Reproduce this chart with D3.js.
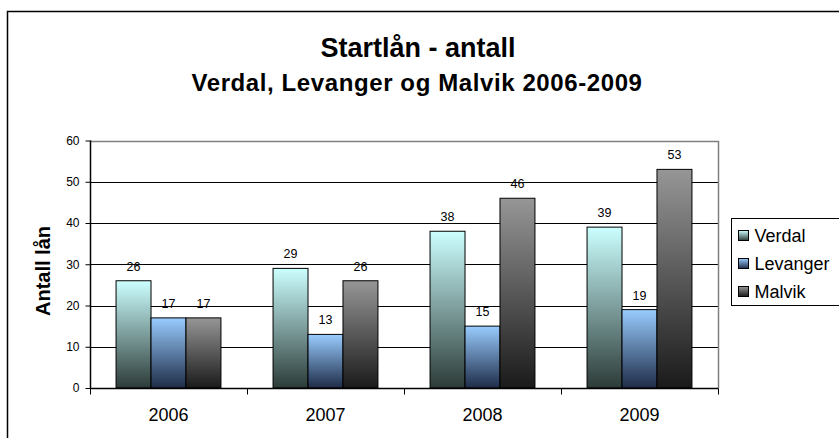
<!DOCTYPE html>
<html>
<head>
<meta charset="utf-8">
<script src="https://cdn.jsdelivr.net/npm/d3@7"></script>
<style>
  body { margin: 0; background: #fff; }
  svg { display: block; font-family: "Liberation Sans", Arial, sans-serif; }
</style>
</head>
<body>
<div id="vis-container"></div>
<script>
// Data
const years = ["2006", "2007", "2008", "2009"];
const seriesNames = ["Verdal", "Levanger", "Malvik"];
const verdal = [26, 29, 38, 39];
const levanger = [17, 13, 15, 19];
const malvik = [17, 26, 46, 53];
const yTicks = [0, 10, 20, 30, 40, 50, 60];

const W = 839, H = 438;
const plot = { left: 90, right: 718, top: 140.5, bottom: 388 };

const svg = d3.select("#vis-container").append("svg")
  .attr("width", W).attr("height", H);

// Gradients (light top -> dark bottom)
const gradColors = {
  Verdal: ["#ccffff", "#2c3b38"],
  Levanger: ["#99ccff", "#1e2c48"],
  Malvik: ["#969696", "#1a1a1a"]
};
const defs = svg.append("defs");
seriesNames.forEach(name => {
  const g = defs.append("linearGradient")
    .attr("id", "grad-" + name)
    .attr("x1", 0).attr("y1", 0).attr("x2", 0).attr("y2", 1);
  g.append("stop").attr("offset", "0%").attr("stop-color", gradColors[name][0]);
  g.append("stop").attr("offset", "100%").attr("stop-color", gradColors[name][1]);
});

// Outer chart border
svg.append("rect")
  .attr("x", 7.5).attr("y", 11.5)
  .attr("width", W + 20).attr("height", H + 20)
  .attr("fill", "none").attr("stroke", "#000").attr("stroke-width", 1.5);

// Title
svg.append("text")
  .attr("x", 418).attr("y", 57)
  .attr("text-anchor", "middle")
  .attr("font-weight", "bold").attr("font-size", 27)
  .text("Startlån - antall");
svg.append("text")
  .attr("x", 417).attr("y", 91)
  .attr("text-anchor", "middle")
  .attr("font-weight", "bold").attr("font-size", 24)
  .attr("letter-spacing", 0.6)
  .text("Verdal, Levanger og Malvik 2006-2009");

// Scales
const x0 = d3.scaleBand().domain(years).range([plot.left, plot.right]).padding(0);
const x1 = d3.scaleBand().domain(seriesNames).range([0, x0.bandwidth()])
  .paddingInner(0).paddingOuter(0.745);
const y = d3.scaleLinear().domain([0, 60]).range([plot.bottom, plot.top]);

// Gridlines
svg.append("g")
  .selectAll("line")
  .data(yTicks.filter(d => d > 0))
  .enter().append("line")
  .attr("x1", plot.left).attr("x2", plot.right)
  .attr("y1", d => Math.round(y(d)) + 0.5).attr("y2", d => Math.round(y(d)) + 0.5)
  .attr("stroke", "#000").attr("stroke-width", 1);

// Plot area border (top + right, gray)
svg.append("path")
  .attr("d", `M${plot.left},${Math.round(plot.top) + 0.5}H${plot.right + 0.5}V${plot.bottom}`)
  .attr("fill", "none").attr("stroke", "#808080").attr("stroke-width", 1.5);

// Bars
const data = years.map((yr, i) => ({
  year: yr,
  values: [
    { name: "Verdal", value: verdal[i] },
    { name: "Levanger", value: levanger[i] },
    { name: "Malvik", value: malvik[i] }
  ]
}));

const groups = svg.append("g").selectAll("g")
  .data(data).enter().append("g")
  .attr("transform", d => `translate(${x0(d.year)},0)`);

groups.selectAll("rect")
  .data(d => d.values).enter().append("rect")
  .attr("x", d => x1(d.name))
  .attr("y", d => y(d.value))
  .attr("width", x1.bandwidth())
  .attr("height", d => y(0) - y(d.value))
  .attr("fill", d => `url(#grad-${d.name})`)
  .attr("stroke", "#000").attr("stroke-width", 1);

groups.selectAll("text")
  .data(d => d.values).enter().append("text")
  .attr("x", d => x1(d.name) + x1.bandwidth() / 2)
  .attr("y", d => y(d.value) - 10)
  .attr("text-anchor", "middle")
  .attr("font-size", 12.5)
  .text(d => d.value);

// Y axis
const yAxis = svg.append("g")
  .attr("transform", `translate(${plot.left + 0.5},0)`)
  .call(d3.axisLeft(y).tickValues(yTicks).tickSize(5).tickPadding(6));
yAxis.select(".domain").attr("stroke", "#000").attr("stroke-width", 1.5)
  .attr("d", `M0,${plot.top}V${plot.bottom}`);
yAxis.selectAll(".tick line").attr("stroke", "#000");
yAxis.selectAll(".tick text")
  .attr("font-size", 12).attr("fill", "#000")
  .attr("font-family", "Liberation Sans, Arial, sans-serif");

// X axis
const xAxis = svg.append("g")
  .attr("transform", `translate(0,${plot.bottom + 0.5})`);
xAxis.append("line")
  .attr("x1", plot.left).attr("x2", plot.right + 0.5)
  .attr("stroke", "#000").attr("stroke-width", 1.5);
xAxis.selectAll("line.tick")
  .data(years.concat(["end"])).enter().append("line")
  .attr("class", "tick")
  .attr("x1", (d, i) => Math.round(plot.left + i * x0.step()) + 0.5)
  .attr("x2", (d, i) => Math.round(plot.left + i * x0.step()) + 0.5)
  .attr("y1", 0).attr("y2", 6)
  .attr("stroke", "#000");
xAxis.selectAll("text")
  .data(years).enter().append("text")
  .attr("x", d => x0(d) + x0.bandwidth() / 2)
  .attr("y", 32)
  .attr("text-anchor", "middle")
  .attr("font-size", 18)
  .text(d => d);

// Y axis title
svg.append("text")
  .attr("transform", "translate(50,271) rotate(-90)")
  .attr("text-anchor", "middle")
  .attr("font-weight", "bold").attr("font-size", 20)
  .text("Antall lån");

// Legend
const legend = svg.append("g").attr("transform", "translate(731.5,218.5)");
legend.append("rect")
  .attr("width", 130).attr("height", 87)
  .attr("fill", "#fff").attr("stroke", "#000").attr("stroke-width", 1);
seriesNames.forEach((name, i) => {
  const ly = 17 + i * 28;
  legend.append("rect")
    .attr("x", 7).attr("y", ly - 5)
    .attr("width", 10).attr("height", 10)
    .attr("fill", `url(#grad-${name})`)
    .attr("stroke", "#000").attr("stroke-width", 1);
  legend.append("text")
    .attr("x", 23).attr("y", ly + 6)
    .attr("font-size", 18)
    .text(name);
});
</script>
</body>
</html>
